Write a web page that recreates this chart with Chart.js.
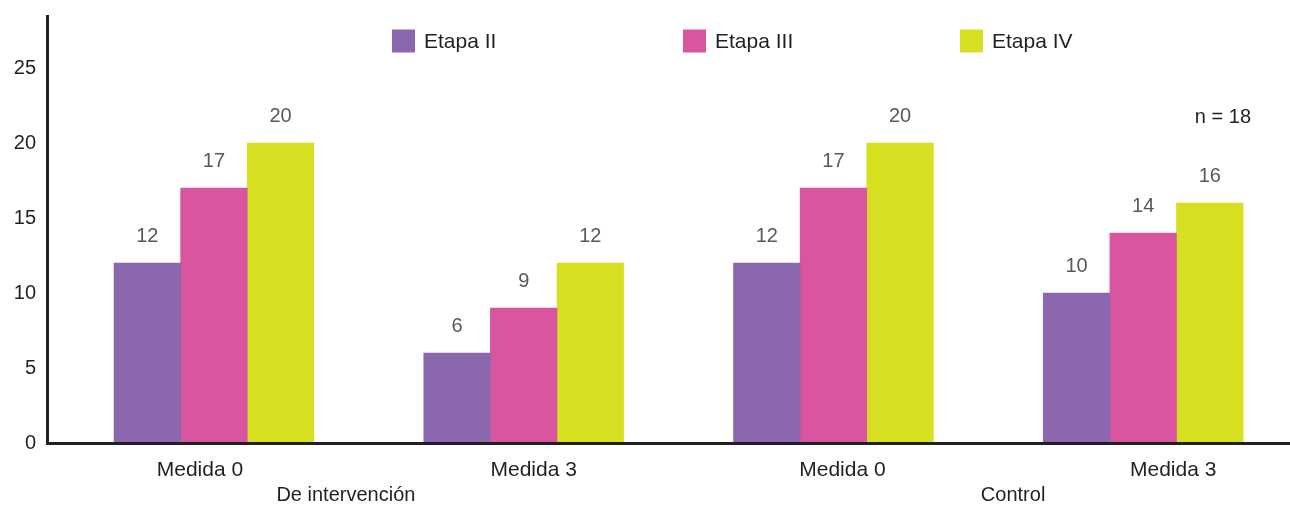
<!DOCTYPE html>
<html><head><meta charset="utf-8">
<script src="https://cdn.jsdelivr.net/npm/chart.js@4/dist/chart.umd.min.js"></script>
<style>html,body{margin:0;padding:0;background:#fff;overflow:hidden}#wrap{width:1290px;height:505px;position:relative}canvas{display:block}</style>
</head><body><div id="wrap"><canvas id="c" width="1290" height="505"></canvas></div>
<script>
const categories = ['Medida 0', 'Medida 3', 'Medida 0', 'Medida 3'];
const groupLabels = ['De intervención', 'Control'];
const seriesNames = ['Etapa II', 'Etapa III', 'Etapa IV'];
const etapaII  = [12, 6, 12, 10];
const etapaIII = [17, 9, 17, 14];
const etapaIV  = [20, 12, 20, 16];
const yTicks = [0, 5, 10, 15, 20, 25];
const sampleNote = 'n = 18';

const colors = ['#8B67AD', '#D9559F', '#D7DF21'];
const FONT = '"Liberation Sans", Arial, Helvetica, sans-serif';
const INK = '#231F20';
const VAL = '#58595B';

const seriesValues = [etapaII, etapaIII, etapaIV];
const datasets = seriesNames.map((name, k) => ({
  label: name,
  data: seriesValues[k].map((v, i) => ({ x: i, y: v })),
  backgroundColor: colors[k],
  borderWidth: 0,
  barThickness: 66.6
}));

const overlay = {
  id: 'overlay',
  afterDatasetsDraw(chart) {
    const ctx = chart.ctx;
    const xs = chart.scales.x;
    ctx.save();
    ctx.font = '20px ' + FONT;
    ctx.fillStyle = VAL;
    ctx.textAlign = 'center';
    ctx.textBaseline = 'middle';
    chart.data.datasets.forEach((ds, k) => {
      const meta = chart.getDatasetMeta(k);
      meta.data.forEach((bar, i) => {
        ctx.fillText(String(seriesValues[k][i]), bar.x, bar.y - 27);
      });
    });
    const legX = [392, 683, 960];
    ctx.font = '21px ' + FONT;
    ctx.textAlign = 'left';
    seriesNames.forEach((n, k) => {
      ctx.fillStyle = colors[k];
      ctx.fillRect(legX[k], 29.5, 23, 23);
      ctx.fillStyle = INK;
      ctx.fillText(n, legX[k] + 32, 42);
    });
    ctx.font = '20px ' + FONT;
    ctx.textAlign = 'right';
    ctx.fillStyle = INK;
    ctx.fillText(sampleNote, 1251, 117);
    const shift = [-14, 10, 9, 30];
    ctx.font = '21px ' + FONT;
    ctx.textAlign = 'center';
    categories.forEach((c, i) => {
      ctx.fillText(c, xs.getPixelForValue(i) + shift[i], 470);
    });
    const groupPos = [0.426, 2.58];
    ctx.font = '20px ' + FONT;
    groupLabels.forEach((g, j) => {
      ctx.fillText(g, xs.getPixelForValue(groupPos[j]), 495);
    });
    ctx.restore();
  }
};

new Chart(document.getElementById('c'), {
  type: 'bar',
  data: { datasets },
  options: {
    responsive: false,
    animation: false,
    devicePixelRatio: 1,
    layout: { padding: { top: 16, right: 0, left: 0, bottom: 0 } },
    plugins: { legend: { display: false }, tooltip: { enabled: false } },
    scales: {
      x: {
        type: 'linear',
        offset: false,
        min: -0.539,
        max: 3.474,
        grid: { display: false, drawTicks: false, offset: false },
        border: { display: true, color: INK, width: 3, z: 1 },
        ticks: { display: false },
        afterBuildTicks: s => { s.ticks = categories.map((c, i) => ({ value: i })); },
        afterFit: s => { s.height = 62; s.paddingLeft = 0; s.paddingRight = 0; }
      },
      y: {
        min: 0,
        max: 28.47,
        grid: { display: false, drawTicks: false },
        border: { display: true, color: INK, width: 3, z: 1 },
        ticks: { color: INK, padding: 11, font: { size: 20, family: FONT } },
        afterBuildTicks: s => { s.ticks = yTicks.map(v => ({ value: v })); },
        afterFit: s => { s.width = 47; s.paddingTop = 0; s.paddingBottom = 0; }
      }
    }
  },
  plugins: [overlay]
});
</script>
</body></html>
